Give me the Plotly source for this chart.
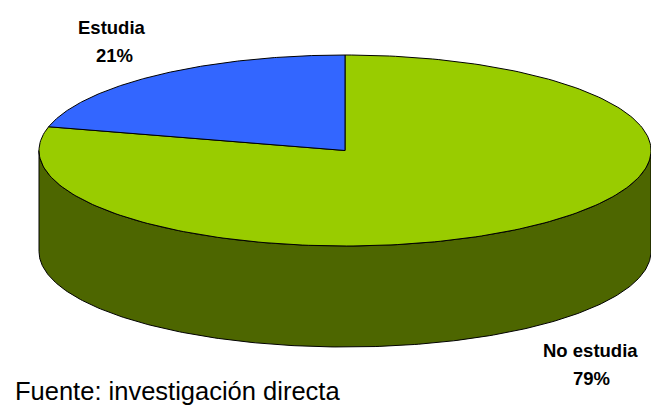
import numpy as np
import plotly.graph_objects as go

labels = ["No estudia", "Estudia"]
values = [79, 21]
top_colors = ["#99CC00", "#3366FF"]
side_color = "#4D6600"
source_text = "Fuente: investigación directa"

# pie geometry in page pixels
CX, CY = 345, 150.5
RX, RY = 306, 95.5
DEPTH = 101


def rim(start, end, n=240):
    # angle measured clockwise from 12 o'clock
    t = np.radians(np.linspace(start, end, n))
    return CX + RX * np.sin(t), CY - RY * np.cos(t)


fig = go.Figure()

# side wall: only the front half of the rim is visible
rx, ry = rim(90, 270)
fig.add_trace(go.Scatter(
    x=np.concatenate([rx, rx[::-1], rx[:1]]),
    y=np.concatenate([ry, ry[::-1] + DEPTH, ry[:1]]),
    mode="lines", fill="toself", fillcolor=side_color,
    line=dict(color="#000000", width=1), hoverinfo="skip", showlegend=False,
))

# top slices
start = 0
for label, val, col in zip(labels, values, top_colors):
    end = start + 360 * val / sum(values)
    sx, sy = rim(start, end)
    fig.add_trace(go.Scatter(
        x=np.concatenate([[CX], sx, [CX]]),
        y=np.concatenate([[CY], sy, [CY]]),
        mode="lines", fill="toself", fillcolor=col,
        line=dict(color="#000000", width=1), name=label, showlegend=False,
    ))
    start = end

# line gap in the original is wider than plotly's <br>, so each line gets its own annotation
label_font = dict(family="Liberation Sans", size=18.5, color="#000000")
for x, y, txt in [(112, 27, labels[1]), (114, 55, f"{values[1]}%"),
                  (590, 350, labels[0]), (591, 378, f"{values[0]}%")]:
    fig.add_annotation(x=x, y=y, text=f"<b>{txt}</b>", showarrow=False, font=label_font)

fig.add_annotation(x=13, y=391, text=source_text, showarrow=False, xanchor="left",
                   font=dict(family="Liberation Sans", size=25.5, color="#000000"))

fig.update_layout(
    width=651, height=405,
    margin=dict(l=0, r=0, t=0, b=0),
    paper_bgcolor="#FFFFFF", plot_bgcolor="#FFFFFF",
    xaxis=dict(range=[0, 651], visible=False, fixedrange=True),
    yaxis=dict(range=[405, 0], visible=False, fixedrange=True),
)
# page default margin would push the figure 8px off
fig.write_html("out.html", config={"displayModeBar": False},
               post_script="document.body.style.margin='0';document.body.style.overflow='hidden';")
